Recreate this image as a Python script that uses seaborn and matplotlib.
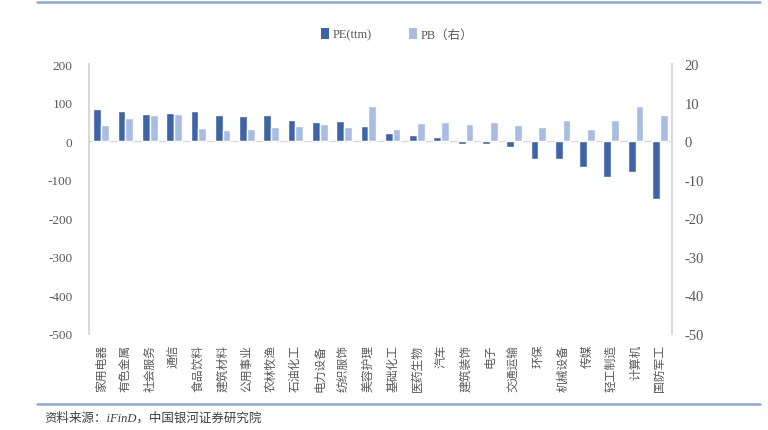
import matplotlib
matplotlib.use("Agg")
import matplotlib.pyplot as plt
import seaborn as sns
import pandas as pd
from matplotlib.patches import Patch
from matplotlib.lines import Line2D

categories = ["家用电器", "有色金属", "社会服务", "通信", "食品饮料", "建筑材料", "公用事业",
              "农林牧渔", "石油化工", "电力设备", "纺织服饰", "美容护理", "基础化工", "医药生物",
              "汽车", "建筑装饰", "电子", "交通运输", "环保", "机械设备", "传媒", "轻工制造",
              "计算机", "国防军工"]
pe_values = [83, 77, 71, 74, 78, 68, 64, 67, 55, 50, 52, 38, 21, 15, 12, -8, -7, -16,
             -47, -47, -67, -92, -79, -151]
pb_values = [4.1, 6.0, 6.7, 7.0, 3.5, 2.8, 3.2, 3.7, 3.8, 4.5, 3.7, 9.0, 3.2, 4.8, 4.9,
             4.4, 4.9, 4.2, 3.7, 5.5, 3.2, 5.5, 9.2, 6.8]
series_names = ["PE(ttm)", "PB（右）"]
left_ticks = [200, 100, 0, -100, -200, -300, -400, -500]
right_ticks = [20, 10, 0, -10, -20, -30, -40, -50]
source_text = "资料来源：iFinD，中国银河证券研究院"

pe_color = "#3B64AD"
pb_color = "#A9BDE4"
text_color = "#595959"

sns.set_theme(style="white")
plt.rcParams["font.family"] = ["Liberation Serif", "Noto Sans CJK SC"]
plt.rcParams["axes.unicode_minus"] = False

df_pe = pd.DataFrame({"cat": categories, "val": pe_values, "series": series_names[0]})
df_pb = pd.DataFrame({"cat": categories, "val": pb_values, "series": series_names[1]})
palette = {series_names[0]: pe_color, series_names[1]: pb_color}

fig = plt.figure(figsize=(7.68, 4.31), dpi=100)
ax1 = fig.add_axes([89 / 768, 1 - 335 / 431, (672 - 89) / 768, (335 - 65) / 431])
ax2 = ax1.twinx()

sns.barplot(data=df_pe, x="cat", y="val", hue="series", hue_order=series_names,
            palette=palette, width=0.64, dodge=True, ax=ax1, legend=False,
            order=categories, saturation=1)
sns.barplot(data=df_pb, x="cat", y="val", hue="series", hue_order=series_names,
            palette=palette, width=0.64, dodge=True, ax=ax2, legend=False,
            order=categories, saturation=1)

ax1.set_ylim(-500, 200)
ax2.set_ylim(-50, 20)
ax1.set_yticks(left_ticks)
ax2.set_yticks(right_ticks)
ax1.set_xlim(-0.5, len(categories) - 0.5)
ax1.axhline(0, color="#D9D9D9", lw=1, zorder=0)

for ax in (ax1, ax2):
    ax.set_xlabel("")
    ax.set_ylabel("")
    ax.spines["top"].set_visible(False)
    ax.spines["bottom"].set_visible(False)
    ax.spines["left"].set_color("#D9D9D9")
    ax.spines["right"].set_color("#D9D9D9")
    ax.tick_params(axis="both", length=0, colors=text_color)
    ax.grid(False)

ax1.tick_params(axis="y", pad=12, labelsize=9.5)
ax2.tick_params(axis="y", pad=9, labelsize=10.5)
ax1.set_xticks(range(len(categories)))
ax1.set_xticklabels(categories, rotation=90, fontsize=8.5, color=text_color,
                    family=["Noto Sans CJK SC"])
ax1.tick_params(axis="x", pad=7)

handles = [Patch(facecolor=pe_color, edgecolor="none", label=series_names[0]),
           Patch(facecolor=pb_color, edgecolor="none", label=series_names[1])]
fig.legend(handles=handles, loc="center", bbox_to_anchor=(397 / 768, 1 - 35 / 431),
           ncol=2, frameon=False, fontsize=9, handlelength=0.6, handleheight=1.0,
           handletextpad=0.3, columnspacing=3.0, labelcolor=text_color)

fig.add_artist(Line2D([37 / 768, 760 / 768], [1 - 3 / 431, 1 - 3 / 431],
                      color="#8FA8D8", lw=1.8, transform=fig.transFigure))
fig.add_artist(Line2D([37 / 768, 760 / 768], [1 - 405 / 431, 1 - 405 / 431],
                      color="#8FA8D8", lw=1.8, transform=fig.transFigure))
fig.text(44 / 768, 1 - 418 / 431, source_text, fontsize=9, style="italic",
         color="#404040", va="center", ha="left")

fig.savefig("out.png", dpi=100)
